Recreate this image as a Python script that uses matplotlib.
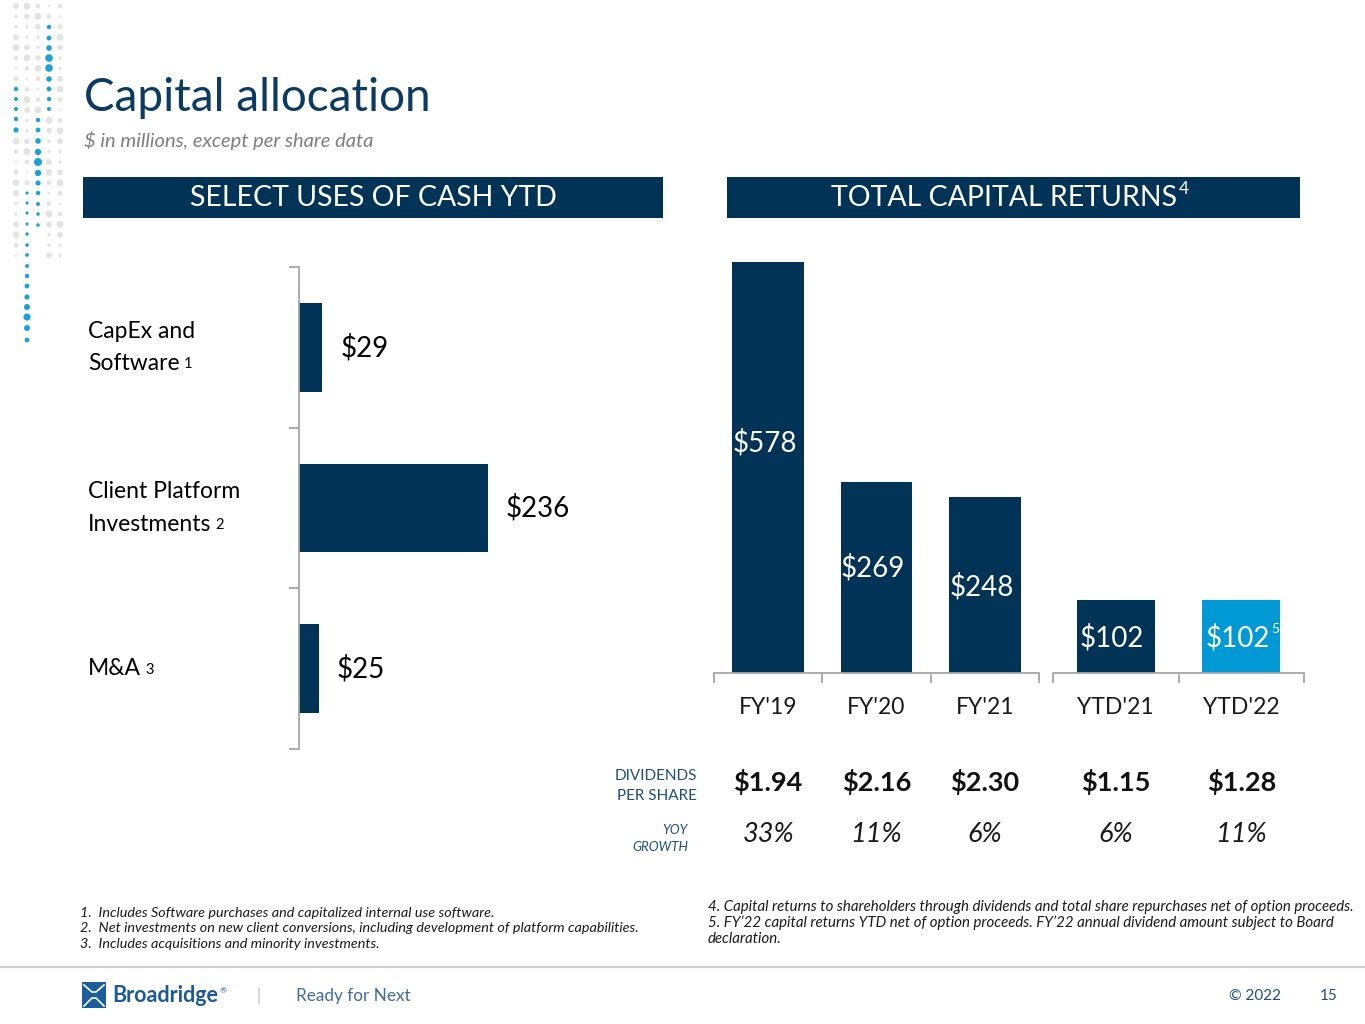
import matplotlib
matplotlib.use("Agg")
import matplotlib.pyplot as plt
import matplotlib.transforms as mtransforms
from matplotlib.patches import Rectangle, Circle

plt.rcParams['font.family'] = ['Lato', 'DejaVu Sans']

# ---------------- data ----------------
uses_labels = ["CapEx and\nSoftware", "Client Platform\nInvestments", "M&A"]
uses_notes = ["1", "2", "3"]
uses_values = [29, 236, 25]

fy_labels = ["FY'19", "FY'20", "FY'21"]
fy_values = [578, 269, 248]
ytd_labels = ["YTD'21", "YTD'22"]
ytd_values = [102, 102]

fy_dividends = ["$1.94", "$2.16", "$2.30"]
ytd_dividends = ["$1.15", "$1.28"]
fy_growth = ["33%", "11%", "6%"]
ytd_growth = ["6%", "11%"]

NAVY = "#003356"
LIGHT = "#0099D5"
TITLE = "#0B3A63"
AXIS = "#A6A6A6"

W, H = 1365, 1024
fig = plt.figure(figsize=(W / 100, H / 100), dpi=100)
fig.patch.set_facecolor("white")


def fx(px):
    return px / W


def fy(py):
    return 1 - py / H


def add_ax(x0, y0, x1, y1):
    return fig.add_axes([fx(x0), fy(y1), (x1 - x0) / W, (y1 - y0) / H])


# ---------------- decorative dots ----------------
deco = fig.add_axes([0, 0, 1, 1])
deco.set_xlim(0, W)
deco.set_ylim(H, 0)
deco.axis("off")
deco.set_zorder(-5)

cols = [16, 27, 38, 49, 60]
step = 10.4
gray_ranges = {16: (6, 265), 27: (6, 190), 38: (6, 115), 49: (6, 265), 60: (6, 260)}
blue = {
    49: [(27, 2.2), (38, 2.4), (48, 2.8), (58, 3.8), (68, 3.8), (79, 2.8), (89, 2.4), (99, 2.2), (109, 2.0)],
    16: [(89, 2.2), (99, 2.0), (109, 2.0), (119, 2.2), (130, 2.6)],
    38: [(120, 2.2), (130, 2.4), (141, 2.8), (152, 3.2), (162, 4.0), (173, 3.2), (183, 2.6), (193, 2.2), (204, 2.0), (214, 1.8), (225, 1.8)],
    27: [(193, 1.6), (203, 1.6), (213, 1.6), (224, 1.6), (234, 1.7), (245, 1.8), (255, 1.9), (266, 2.0), (276, 2.2), (286, 2.4), (297, 2.6), (307, 3.0), (317, 3.6), (328, 3.0), (340, 2.4)],
}
for c in cols:
    lo, hi = gray_ranges[c]
    y = lo
    i = 0
    while y <= hi:
        taken = any(abs(y - by) < 5 for by, _ in blue.get(c, []))
        if not taken:
            r = 1.2 + 2.2 * abs(((i * 7 + c) % 9) - 4) / 4
            deco.add_patch(Circle((c, y), r, color="#E3E3E3", lw=0))
        y += step
        i += 1
for c, pts in blue.items():
    for by, r in pts:
        deco.add_patch(Circle((c, by), r, color="#1BA1D8", lw=0))

# ---------------- title ----------------
fig.text(fx(84), fy(98), "Capital allocation", fontsize=33, color=TITLE,
         va="center", ha="left")
fig.text(fx(84), fy(140), "$ in millions, except per share data", fontsize=14.5,
         style="italic", color="#7F7F7F", va="center", ha="left")

# ---------------- header boxes ----------------
deco.add_patch(Rectangle((83, 177), 580, 41, color=NAVY, lw=0))
deco.add_patch(Rectangle((727, 177), 573, 41, color=NAVY, lw=0))
deco.text(373, 198, "SELECT USES OF CASH YTD", color="white", fontsize=20.5,
          ha="center", va="center")
hdr = deco.text(1004, 198, "TOTAL CAPITAL RETURNS", color="white", fontsize=20.5,
                ha="center", va="center")
deco.annotate("4", xy=(1, 0.55), xycoords=hdr, xytext=(1, 0),
              textcoords="offset points", color="white", fontsize=12.5,
              ha="left", va="bottom")

# ---------------- left: select uses of cash ----------------
axL = add_ax(299, 267, 660, 749)
yy = list(range(len(uses_values)))
axL.barh(yy, uses_values, height=0.55, color=NAVY)
axL.set_ylim(len(uses_values) - 0.5, -0.5)
axL.set_xlim(0, 451)
for s in ["top", "right", "bottom"]:
    axL.spines[s].set_visible(False)
axL.spines["left"].set_color(AXIS)
axL.spines["left"].set_linewidth(1.3)
axL.set_xticks([])
axL.set_yticks(yy)
axL.set_yticklabels([])
axL.tick_params(axis="y", which="major", length=0)
axL.set_yticks([i - 0.5 for i in range(len(uses_values) + 1)], minor=True)
axL.tick_params(axis="y", which="minor", length=7, width=1.3, color=AXIS,
                direction="out")
axL.patch.set_alpha(0)
for i, v in enumerate(uses_values):
    axL.annotate(f"${v}", xy=(v, i), xytext=(13, 0), textcoords="offset points",
                 fontsize=20, color="black", ha="left", va="center")
blendL = mtransforms.blended_transform_factory(fig.transFigure, axL.transData)
for i, (lab, note) in enumerate(zip(uses_labels, uses_notes)):
    lines = lab.split("\n")
    n = len(lines)
    last = None
    for j, line in enumerate(lines):
        off = (j - (n - 1) / 2) * 0.2
        last = axL.text(fx(88), i + off, line, transform=blendL, fontsize=16.5,
                        color="black", ha="left", va="center")
    axL.annotate(note, xy=(1, 0.12), xycoords=last, xytext=(3, 0),
                 textcoords="offset points", fontsize=10.5, color="black",
                 ha="left", va="bottom")


# ---------------- right: total capital returns ----------------
def setup_cols(ax, labels, values, colors, width):
    xs = list(range(len(values)))
    ax.bar(xs, values, width=width, color=colors)
    ax.set_xlim(-0.5, len(values) - 0.5)
    ax.set_ylim(0, 602)
    for s in ["top", "right", "left"]:
        ax.spines[s].set_visible(False)
    ax.spines["bottom"].set_color(AXIS)
    ax.spines["bottom"].set_linewidth(1.3)
    ax.set_yticks([])
    ax.set_xticks(xs)
    ax.set_xticklabels(labels, fontsize=16.5, color="#1A1A1A")
    ax.tick_params(axis="x", which="major", length=0, pad=17)
    ax.set_xticks([i - 0.5 for i in range(len(values) + 1)], minor=True)
    ax.tick_params(axis="x", which="minor", length=7, width=1.3, color=AXIS,
                   direction="out")
    ax.patch.set_alpha(0)
    return xs


axA = add_ax(714, 245, 1039, 673)
axB = add_ax(1053, 245, 1304, 673)
xsA = setup_cols(axA, fy_labels, fy_values, [NAVY] * 3, 0.66)
xsB = setup_cols(axB, ytd_labels, ytd_values, [NAVY, LIGHT], 0.62)

fracA = [0.56, 0.55, 0.49]
fracB = [0.48, 0.48]
for x, v, f in zip(xsA, fy_values, fracA):
    axA.text(x - 0.03, v * f, f"${v}", color="white", fontsize=20,
             ha="center", va="center")
for x, v, f in zip(xsB, ytd_values, fracB):
    t = axB.text(x - 0.03, v * f, f"${v}", color="white", fontsize=20,
                 ha="center", va="center")
    if x == 1:
        axB.annotate("5", xy=(1, 0.62), xycoords=t, xytext=(1, 0),
                     textcoords="offset points", color="white", fontsize=10,
                     ha="left", va="bottom")

# dividends and growth rows
for ax, xs, divs, grs in [(axA, xsA, fy_dividends, fy_growth),
                          (axB, xsB, ytd_dividends, ytd_growth)]:
    bt = mtransforms.blended_transform_factory(ax.transData, fig.transFigure)
    for x, d, g in zip(xs, divs, grs):
        ax.text(x, fy(782), d, transform=bt, fontsize=19.5, fontweight="bold",
                color="#111111", ha="center", va="center", clip_on=False)
        ax.text(x, fy(834), g, transform=bt, fontsize=19.5, style="italic",
                color="#1A1A1A", ha="center", va="center", clip_on=False)

LBL = "#1F4E79"
fig.text(fx(697), fy(776), "DIVIDENDS", fontsize=11, color=LBL, ha="right", va="center")
fig.text(fx(697), fy(796), "PER SHARE", fontsize=11, color=LBL, ha="right", va="center")
fig.text(fx(688), fy(830), "YOY", fontsize=9.5, style="italic", color=LBL, ha="right", va="center")
fig.text(fx(688), fy(847), "GROWTH", fontsize=9.5, style="italic", color=LBL, ha="right", va="center")

# ---------------- footnotes ----------------
left_notes = [
    "1.  Includes Software purchases and capitalized internal use software.",
    "2.  Net investments on new client conversions, including development of platform capabilities.",
    "3.  Includes acquisitions and minority investments.",
]
for k, t in enumerate(left_notes):
    fig.text(fx(80), fy(913 + 15.5 * k), t, fontsize=10.4, style="italic",
             color="#1A1A1A", ha="left", va="center")
right_notes = [
    "4. Capital returns to shareholders through dividends and total share repurchases net of option proceeds.",
    "5. FY\u201922 capital returns YTD net of option proceeds. FY\u201922 annual dividend amount subject to Board",
    "declaration.",
]
for k, t in enumerate(right_notes):
    fig.text(fx(708), fy(907 + 16 * k), t, fontsize=10.8, style="italic",
             color="#1A1A1A", ha="left", va="center")

# ---------------- footer ----------------
deco.plot([0, W], [967, 967], color="#CFCFCF", lw=1.5)
deco.add_patch(Rectangle((82, 982), 24, 26, color="#1B5E9B", lw=0))
deco.plot([84, 92, 96, 104], [985, 992, 992, 985], color="white", lw=1.2)
deco.plot([84, 92, 96, 104], [1006, 998, 998, 1006], color="white", lw=1.2)
brand = deco.text(112, 996, "Broadridge", fontsize=15.5, fontweight="bold",
                  color="#1B5A96", ha="left", va="center")
deco.annotate("\u00ae", xy=(1, 0.6), xycoords=brand, xytext=(1, 0),
              textcoords="offset points", fontsize=6, color="#1B5A96",
              ha="left", va="bottom")
deco.text(259, 996, "|", fontsize=12, color="#BBBBBB", ha="center", va="center")
deco.text(296, 996, "Ready for Next", fontsize=12.3, color="#3C6C9C",
          ha="left", va="center")
deco.text(1255, 996, "\u00a9 2022", fontsize=11, color="#1F4E79",
          ha="center", va="center")
deco.text(1329, 996, "15", fontsize=11, color="#1F4E79",
          ha="center", va="center")

fig.savefig("out.png", dpi=100, facecolor="white")
